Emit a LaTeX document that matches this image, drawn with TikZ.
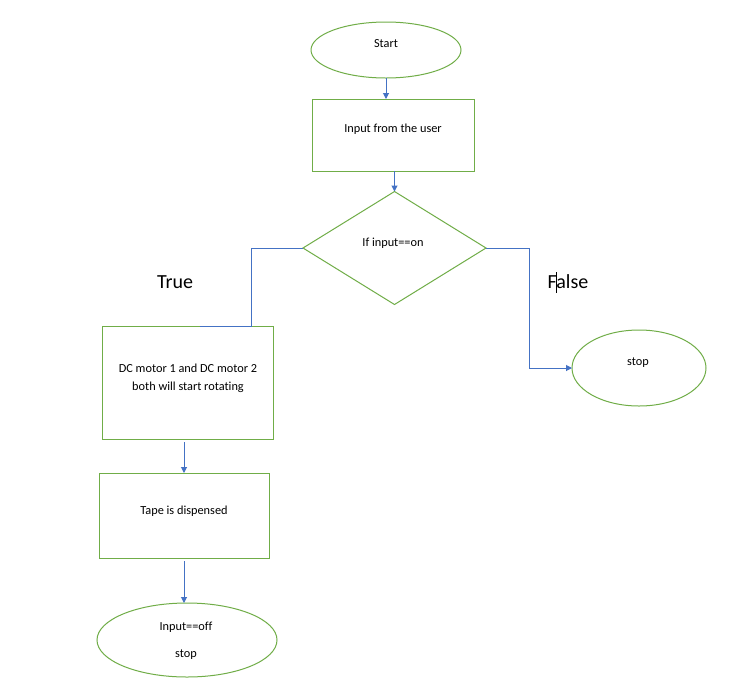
\documentclass[tikz,border=0pt]{standalone}
\usepackage{fontspec}
\setmainfont{Carlito}[Ligatures=NoCommon]
\usetikzlibrary{shapes.geometric,arrows.meta}
\definecolor{shapegreen}{HTML}{70AD47}
\definecolor{linkblue}{HTML}{4472C4}
\begin{document}
\begin{tikzpicture}[x=1pt,y=-1pt,
  shapeline/.style={draw=shapegreen,line width=1pt,inner sep=0pt,outer sep=0pt},
  oval/.style={shapeline,ellipse},
  procbox/.style={shapeline,rectangle},
  decision/.style={shapeline,diamond},
  txt/.style={font=\fontsize{12.3}{18}\selectfont,inner sep=0pt,align=center},
  bigtxt/.style={font=\fontsize{20}{24}\selectfont,inner sep=0pt},
  conn/.style={draw=linkblue,line width=1pt},
  flow/.style={conn,-{Triangle[length=6pt,width=6pt]}}]
  % page
  \fill[white] (0,0) rectangle (741,689);
  \useasboundingbox (0,0) rectangle (741,689);

  % shapes
  \node[oval,minimum width=150pt,minimum height=56pt] (start) at (386,50) {};
  \node[procbox,minimum width=162pt,minimum height=72pt] (input) at (393,135) {};
  \node[decision,minimum width=183pt,minimum height=113pt] (dec) at (394.5,248) {};
  \node[procbox,minimum width=171pt,minimum height=113pt] (dc) at (187.5,382.5) {};
  \node[procbox,minimum width=170pt,minimum height=85pt] (tape) at (184,515.5) {};
  \node[oval,minimum width=180pt,minimum height=74pt] (finish) at (187,640) {};
  \node[oval,minimum width=134pt,minimum height=76pt] (stopR) at (639,368) {};

  % texts
  \node[txt] (tstart) at (386,44) {Start};
  \node[txt] (tinput) at (393,129) {Input from the user};
  \node[txt] (tdec) at (393,243) {If input==on};
  \node[txt] (tdc) at (188,378) {DC motor 1 and DC motor 2\\both will start rotating};
  \node[txt] (ttape) at (184,511) {Tape is dispensed};
  \node[txt] (tfin1) at (186,627) {Input==off};
  \node[txt] (tfin2) at (186,655) {stop};
  \node[txt] (tstop) at (638,363) {stop};
  \node[bigtxt] (ltrue) at (175,282) {True};
  \node[bigtxt] (lfalse) at (568,282) {False};
  % text caret inside the False label
  \draw[black,line width=0.8pt] (556,272) -- (556,293);

  % connectors
  \draw[flow] (start.south) -- (start.south |- input.north);
  \draw[flow] (input.south -| dec.north) -- (dec.north);
  \coordinate (bendL) at (251,326);
  \coordinate (endL) at (200,326);
  \draw[conn] (dec.west) -| (bendL) -- (endL);
  \draw[flow] (dec.east) -- ++(43,0) |- (stopR.west);
  \draw[flow] (dc.south -| tape.north) ++(0,3) -- (tape.north);
  \draw[flow] (tape.south) ++(0,3) -- (tape.south |- finish.north);
\end{tikzpicture}
\end{document}
